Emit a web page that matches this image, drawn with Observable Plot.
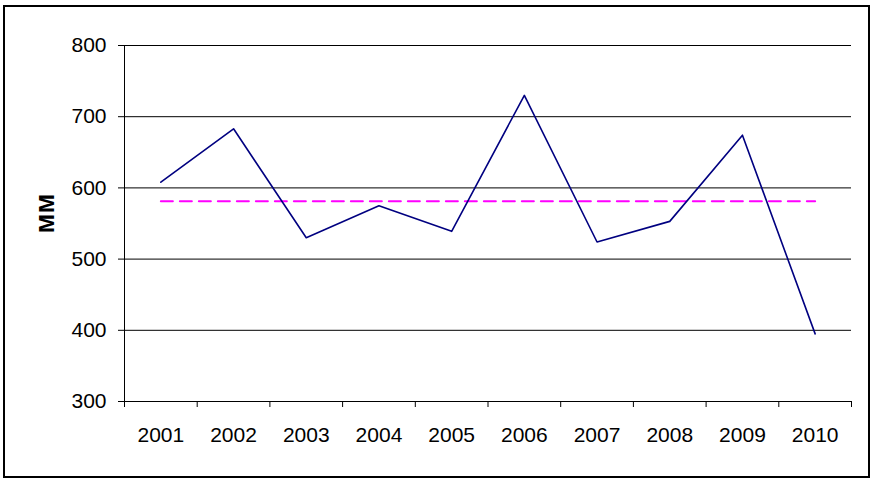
<!DOCTYPE html>
<html>
<head>
<meta charset="utf-8">
<script src="https://cdn.jsdelivr.net/npm/d3@7"></script>
<script src="https://cdn.jsdelivr.net/npm/@observablehq/plot@0.6"></script>
<style>
  html, body { margin: 0; padding: 0; background: #fff; }
  #wrap { position: relative; width: 874px; height: 481px; }
  #frame { position: absolute; left: 3px; top: 5px; width: 867px; height: 473px; box-sizing: border-box; border: 2.5px solid #000; pointer-events: none; }
  svg { display: block; }
</style>
</head>
<body>
<div id="wrap"><div id="chart"></div><div id="frame"></div></div>
<script>
const years = [2001, 2002, 2003, 2004, 2005, 2006, 2007, 2008, 2009, 2010];
const rainfall = [608, 683, 530, 575, 539, 730, 524, 553, 674, 395];
const yTicks = [300, 400, 500, 600, 700, 800];
const gridValues = [400, 500, 600, 700, 800];
const yLabel = "мм";

const data = years.map((y, i) => ({year: y, value: rainfall[i]}));
const mean = d3.mean(rainfall);
const meanData = [{year: years[0], value: mean}, {year: years[years.length - 1], value: mean}];
const boundaries = d3.range(years[0] - 0.5, years[years.length - 1] + 1, 1);

const chart = Plot.plot({
  width: 874,
  height: 481,
  marginLeft: 124,
  marginRight: 23,
  marginTop: 45,
  marginBottom: 80,
  style: {fontFamily: "'Liberation Sans', Arial, sans-serif", fontSize: "21px", color: "#000", background: "transparent"},
  x: {type: "linear", domain: [boundaries[0], boundaries[boundaries.length - 1]]},
  y: {domain: [300, 800]},
  marks: [
    Plot.ruleY(gridValues, {stroke: "#000", strokeWidth: 1}),
    Plot.ruleY([300], {stroke: "#000", strokeWidth: 1}),
    Plot.ruleX([boundaries[0]], {stroke: "#000", strokeWidth: 1}),
    Plot.axisY(yTicks, {anchor: "left", tickSize: 6, tickPadding: 12, fontSize: 21, label: null, stroke: "#000"}),
    Plot.axisX(boundaries, {anchor: "bottom", tickSize: 6, tickFormat: () => "", label: null, stroke: "#000"}),
    Plot.axisX(years, {anchor: "bottom", tickSize: 0, tickPadding: 26, tickFormat: d => String(d), fontSize: 21, label: null}),
    Plot.text([yLabel], {frameAnchor: "left", dx: -79, dy: 10, rotate: -90, fontWeight: "bold", fontSize: 27, fill: "#000"}),
    Plot.line(meanData, {x: "year", y: "value", stroke: "#FF00FF", strokeWidth: 2, strokeDasharray: "12,7"}),
    Plot.line(data, {x: "year", y: "value", stroke: "#000080", strokeWidth: 1.6})
  ]
});
document.getElementById("chart").appendChild(chart);
</script>
</body>
</html>
